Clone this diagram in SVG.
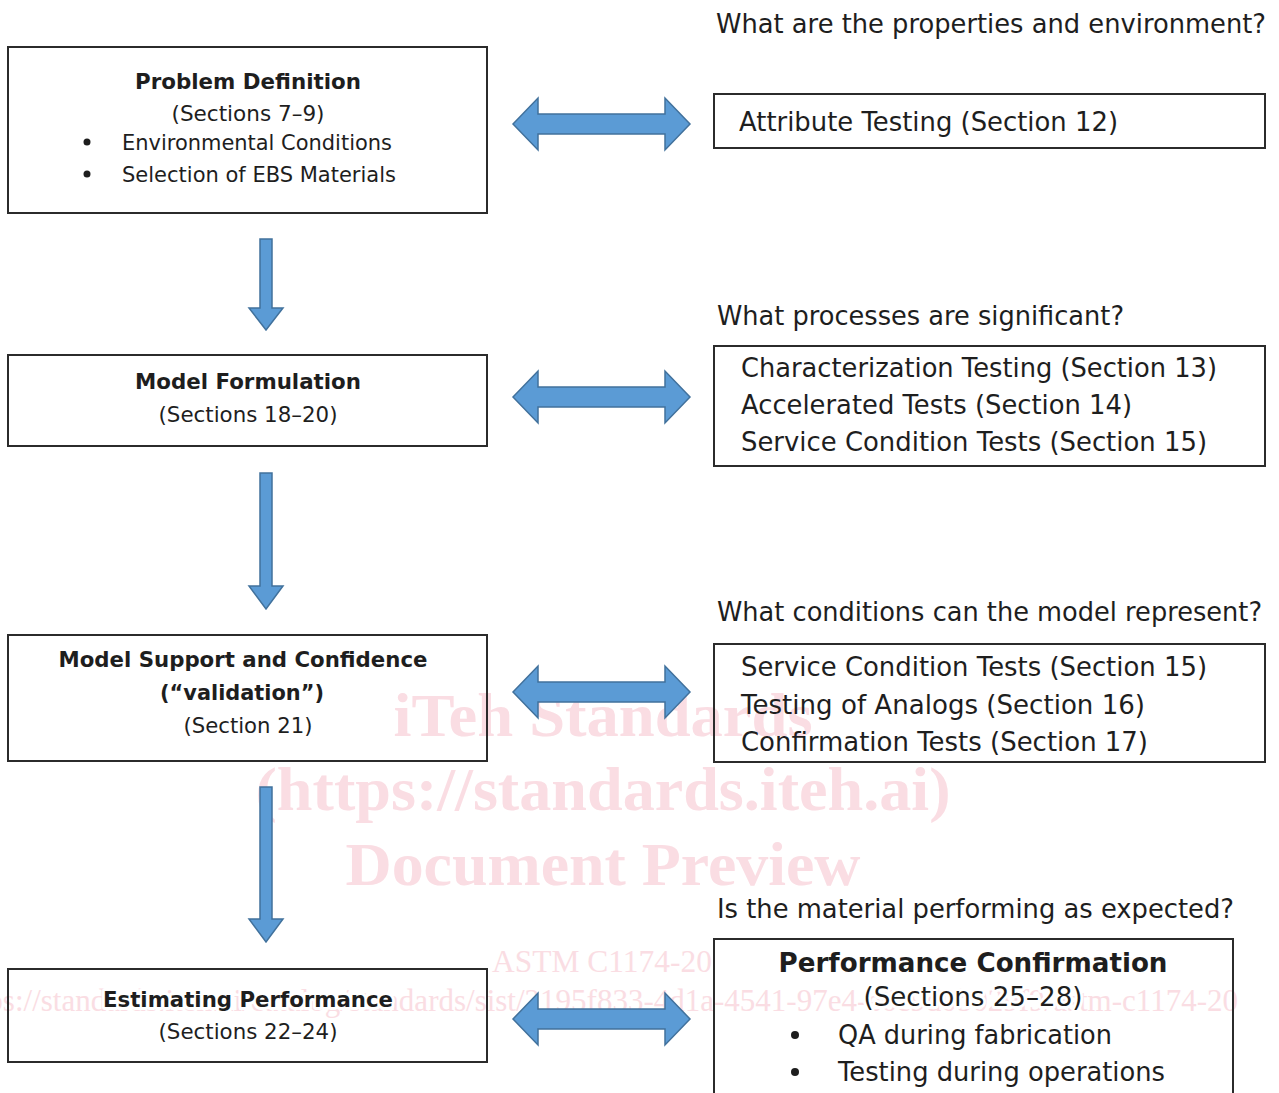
<svg xmlns="http://www.w3.org/2000/svg" width="1279" height="1093" viewBox="0 0 1279 1093">
  <style>
    .box { fill: none; stroke: #2b2b2b; stroke-width: 2; }
    .arrow { fill: #5b9bd5; stroke: #41719c; stroke-width: 1.5; stroke-linejoin: miter; }
    .t { font-family: "DejaVu Sans", Verdana, sans-serif; fill: #1e1e1e; }
    .sm { font-size: 22px; }
    .lg { font-size: 27px; }
    .b { font-weight: bold; }
    .mid { text-anchor: middle; }
    .halo { stroke: #ffffff; stroke-width: 6; stroke-linejoin: round; paint-order: stroke; }
    .dot { fill: #1e1e1e; }
    .wm { font-family: "Liberation Serif", "Times New Roman", serif; fill: #fadde3; }
    .wmb { font-weight: bold; font-size: 62px; text-anchor: middle; }
  </style>

  <rect width="1279" height="1093" fill="#ffffff"/>

  <!-- publisher watermark, sits under the chart -->
  <g id="watermark">
    <text class="wm wmb" x="603" y="736" textLength="419" lengthAdjust="spacingAndGlyphs">iTeh Standards</text>
    <text class="wm wmb" x="603" y="810" textLength="695" lengthAdjust="spacingAndGlyphs">(https://standards.iteh.ai)</text>
    <text class="wm wmb" x="603" y="885" textLength="515" lengthAdjust="spacingAndGlyphs">Document Preview</text>
    <text class="wm" x="492" y="972" font-size="31" textLength="220" lengthAdjust="spacingAndGlyphs">ASTM C1174-20</text>
    <text class="wm" x="1238" y="1011" font-size="31" text-anchor="end">https://standards.iteh.ai/catalog/standards/sist/2195f833-4d1a-4541-97e4-e6c9d0b029f9/astm-c1174-20</text>
  </g>

  <!-- left column: analysis steps -->
  <g id="problem-definition">
    <rect class="box" x="8" y="47" width="479" height="166"/>
    <text class="t sm b mid" x="248" y="89" textLength="226" lengthAdjust="spacingAndGlyphs">Problem Definition</text>
    <text class="t sm mid" x="248" y="121" textLength="153" lengthAdjust="spacingAndGlyphs">(Sections 7–9)</text>
    <circle class="dot" cx="87" cy="142" r="3.5"/>
    <text class="t sm" x="122" y="150" textLength="270" lengthAdjust="spacingAndGlyphs">Environmental Conditions</text>
    <circle class="dot" cx="87" cy="174" r="3.5"/>
    <text class="t sm" x="122" y="182" textLength="274" lengthAdjust="spacingAndGlyphs">Selection of EBS Materials</text>
  </g>

  <g id="model-formulation">
    <rect class="box" x="8" y="355" width="479" height="91"/>
    <text class="t sm b mid" x="248" y="389" textLength="226" lengthAdjust="spacingAndGlyphs">Model Formulation</text>
    <text class="t sm mid" x="248" y="422" textLength="179" lengthAdjust="spacingAndGlyphs">(Sections 18–20)</text>
  </g>

  <g id="model-support">
    <rect class="box" x="8" y="635" width="479" height="126"/>
    <text class="t sm b mid" x="243" y="667" textLength="369" lengthAdjust="spacingAndGlyphs">Model Support and Confidence</text>
    <text class="t sm b mid" x="242" y="700" textLength="164" lengthAdjust="spacingAndGlyphs">(“validation”)</text>
    <text class="t sm mid" x="248" y="733" textLength="129" lengthAdjust="spacingAndGlyphs">(Section 21)</text>
  </g>

  <g id="estimating-performance">
    <rect class="box" x="8" y="969" width="479" height="93"/>
    <text class="t sm b mid halo" x="248" y="1007" textLength="290" lengthAdjust="spacingAndGlyphs">Estimating Performance</text>
    <text class="t sm mid" x="248" y="1039" textLength="179" lengthAdjust="spacingAndGlyphs">(Sections 22–24)</text>
  </g>

  <!-- right column: questions and testing -->
  <g id="attribute-testing">
    <text class="t lg" x="716" y="33" textLength="550" lengthAdjust="spacingAndGlyphs">What are the properties and environment?</text>
    <rect class="box" x="714" y="94" width="551" height="54"/>
    <text class="t lg" x="739" y="131" textLength="379" lengthAdjust="spacingAndGlyphs">Attribute Testing (Section 12)</text>
  </g>

  <g id="process-testing">
    <text class="t lg" x="717" y="325" textLength="407" lengthAdjust="spacingAndGlyphs">What processes are significant?</text>
    <rect class="box" x="714" y="346" width="551" height="120"/>
    <text class="t lg" x="741" y="377" textLength="476" lengthAdjust="spacingAndGlyphs">Characterization Testing (Section 13)</text>
    <text class="t lg" x="741" y="414" textLength="391" lengthAdjust="spacingAndGlyphs">Accelerated Tests (Section 14)</text>
    <text class="t lg" x="741" y="451" textLength="466" lengthAdjust="spacingAndGlyphs">Service Condition Tests (Section 15)</text>
  </g>

  <g id="condition-testing">
    <text class="t lg" x="717" y="621" textLength="545" lengthAdjust="spacingAndGlyphs">What conditions can the model represent?</text>
    <rect class="box" x="714" y="644" width="551" height="118"/>
    <text class="t lg" x="741" y="676" textLength="466" lengthAdjust="spacingAndGlyphs">Service Condition Tests (Section 15)</text>
    <text class="t lg" x="741" y="714" textLength="404" lengthAdjust="spacingAndGlyphs">Testing of Analogs (Section 16)</text>
    <text class="t lg" x="741" y="751" textLength="407" lengthAdjust="spacingAndGlyphs">Confirmation Tests (Section 17)</text>
  </g>

  <g id="performance-confirmation">
    <text class="t lg" x="717" y="918" textLength="517" lengthAdjust="spacingAndGlyphs">Is the material performing as expected?</text>
    <rect class="box" x="714" y="939" width="519" height="200"/>
    <text class="t lg b mid" x="973" y="972" textLength="389" lengthAdjust="spacingAndGlyphs">Performance Confirmation</text>
    <text class="t lg mid halo" x="973" y="1006" textLength="219" lengthAdjust="spacingAndGlyphs">(Sections 25–28)</text>
    <circle class="dot" cx="795" cy="1035" r="4"/>
    <text class="t lg" x="838" y="1044" textLength="274" lengthAdjust="spacingAndGlyphs">QA during fabrication</text>
    <circle class="dot" cx="795" cy="1072" r="4"/>
    <text class="t lg" x="838" y="1081" textLength="327" lengthAdjust="spacingAndGlyphs">Testing during operations</text>
  </g>

  <!-- connectors: block arrows -->
  <g id="connectors">
    <path class="arrow" d="M260,239 H272 V308 H283 L266,330 L249,308 H260 Z"/>
    <path class="arrow" d="M260,473 H272 V586 H283 L266,609 L249,586 H260 Z"/>
    <path class="arrow" d="M260,787 H272 V919 H283 L266,942 L249,919 H260 Z"/>

    <path class="arrow" d="M513,124 L538,98 V114 H665 V98 L690,124 L665,150 V134 H538 V150 Z"/>
    <path class="arrow" d="M513,397 L538,371 V387 H665 V371 L690,397 L665,423 V407 H538 V423 Z"/>
    <path class="arrow" d="M513,692 L538,666 V682 H665 V666 L690,692 L665,718 V702 H538 V718 Z"/>
    <path class="arrow" d="M513,1019 L538,993 V1009 H665 V993 L690,1019 L665,1045 V1029 H538 V1045 Z"/>
  </g>
</svg>
